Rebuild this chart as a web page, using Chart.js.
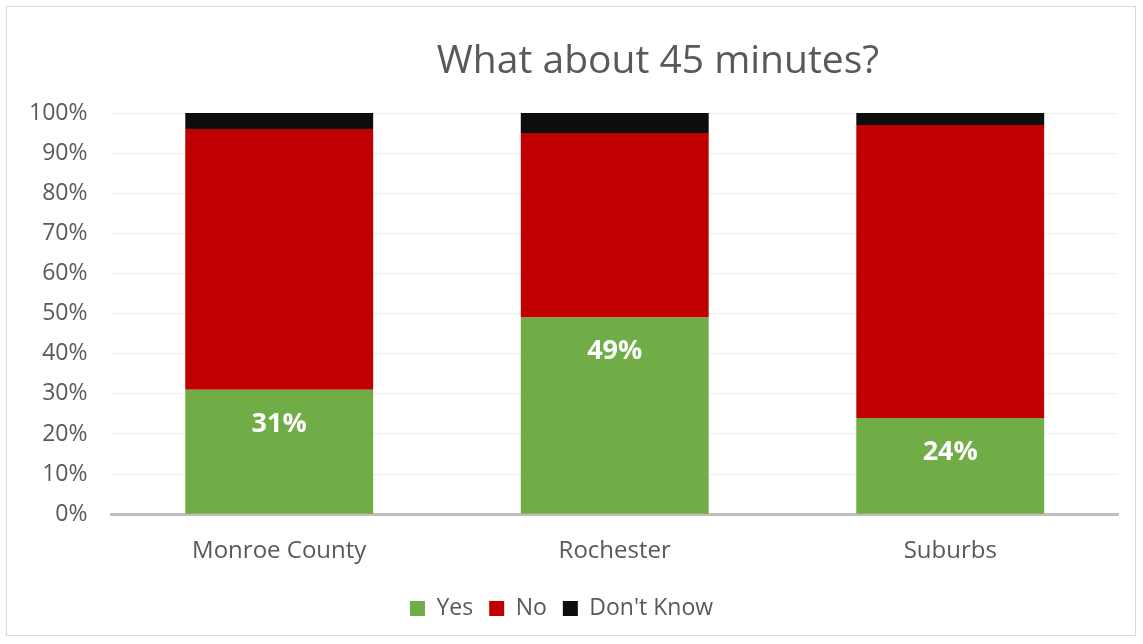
<!DOCTYPE html>
<html>
<head>
<meta charset="utf-8">
<script src="https://cdn.jsdelivr.net/npm/chart.js@4"></script>
<style>
    html, body { margin: 0; padding: 0; background: #fff; }
    #frame {
        position: absolute; left: 6px; top: 6px;
        width: 1130px; height: 630px;
        border: 1px solid #d9d9d9; box-sizing: border-box;
    }
    #wrap { position: absolute; left: 0; top: 0; width: 1143px; height: 644px; }
    #title {
        position: absolute; left: 658px; top: 35px;
        transform: translateX(-50%); white-space: nowrap;
        font: 39px/46px 'Open Sans', 'Noto Sans', sans-serif; color: #595959;
    }
</style>
</head>
<body>
<div id="frame"></div>
<div id="wrap"><canvas id="chart"></canvas></div>
<div id="title">What about 45 minutes?</div>
<script>
// ── data ──────────────────────────────────────────────
const categories = ['Monroe County', 'Rochester', 'Suburbs'];
const yesVals    = [31, 49, 24];
const noVals     = [65, 46, 73];
const dkVals     = [4, 5, 3];
const yTicks     = [0, 10, 20, 30, 40, 50, 60, 70, 80, 90, 100];

const FONT = "'Open Sans', 'Noto Sans', sans-serif";
const GREY = '#595959';

// white % label just inside the top of the Yes segment
const yesLabels = {
    id: 'yesLabels',
    afterDatasetsDraw(chart) {
        const ctx  = chart.ctx;
        const meta = chart.getDatasetMeta(0);
        ctx.save();
        ctx.fillStyle = '#fff';
        ctx.font = `bold 27px ${FONT}`;
        ctx.textAlign = 'center';
        ctx.textBaseline = 'middle';
        meta.data.forEach((bar, i) => {
            ctx.fillText(yesVals[i] + '%', bar.x, bar.y + 34);
        });
        ctx.restore();
    },
};

new Chart(document.getElementById('chart'), {
    type: 'bar',
    data: {
        labels: categories,
        datasets: [
            { label: 'Yes',        data: yesVals, backgroundColor: '#70ad47' },
            { label: 'No',         data: noVals,  backgroundColor: '#c00000' },
            { label: "Don't Know", data: dkVals,  backgroundColor: '#0d0d0d' },
        ],
    },
    options: {
        responsive: true,
        maintainAspectRatio: false,
        animation: false,
        layout: { padding: { left: 5, right: 25, top: 113, bottom: 14 } },
        datasets: { bar: { categoryPercentage: 1, barPercentage: 0.56, borderWidth: 0 } },
        plugins: {
            title: { display: false },
            legend: {
                position: 'bottom',
                labels: {
                    color: GREY,
                    boxWidth: 15, boxHeight: 15,
                    padding: 16,
                    font: { family: FONT, size: 23 },
                },
            },
            tooltip: { enabled: false },
        },
        scales: {
            x: {
                stacked: true,
                grid: { display: false },
                border: { color: '#bfbfbf', width: 3 },
                ticks: { color: GREY, font: { family: FONT, size: 24 }, padding: 15 },
            },
            y: {
                stacked: true,
                min: 0, max: 100,
                afterBuildTicks: axis => { axis.ticks = yTicks.map(v => ({ value: v })); },
                grid: { color: '#ededed', lineWidth: 1, drawTicks: false },
                border: { display: false },
                ticks: {
                    color: GREY, padding: 24,
                    font: { family: FONT, size: 23 },
                    callback: v => v + '%',
                },
            },
        },
    },
    plugins: [yesLabels],
});
</script>
</body>
</html>
